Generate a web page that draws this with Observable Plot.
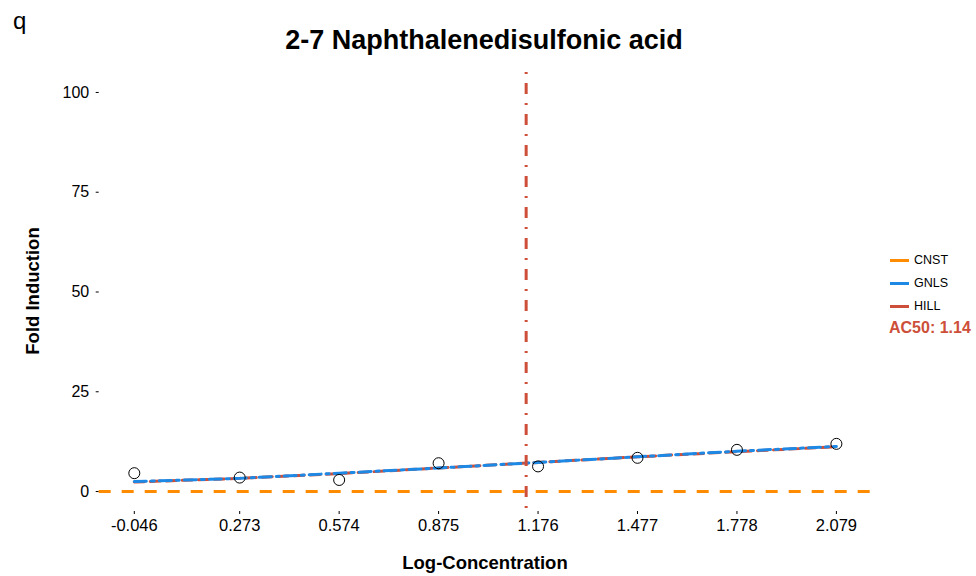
<!DOCTYPE html>
<html>
<head>
<meta charset="utf-8">
<script src="https://cdn.jsdelivr.net/npm/d3@7"></script>
<script src="https://cdn.jsdelivr.net/npm/@observablehq/plot@0.6"></script>
<style>
  body { margin: 0; background: #fff; font-family: "Liberation Sans", Arial, Helvetica, sans-serif; }
  #wrap { position: relative; width: 976px; height: 576px; overflow: hidden; }
  #chart { position: absolute; left: 0; top: 0; }
  .abs { position: absolute; white-space: nowrap; color: #000; line-height: 1.15; }
</style>
</head>
<body>
<div id="wrap">
  <div id="chart"></div>
  <div class="abs" style="left:13px;top:7px;font-size:24px;">q</div>
  <div class="abs" id="title" style="left:484px;top:25px;transform:translateX(-50%);font-size:27px;font-weight:bold;"></div>
  <div class="abs" id="xlab" style="left:485px;top:552px;transform:translateX(-50%);font-size:18.5px;font-weight:bold;"></div>
  <div class="abs" id="ylab" style="left:33px;top:291px;transform:translate(-50%,-50%) rotate(-90deg);font-size:18.5px;font-weight:bold;"></div>
  <div id="legend" class="abs" style="left:889px;top:250px;"></div>
</div>
<script>
// ---- data ----
const chartTitle = "2-7 Naphthalenedisulfonic acid";
const xTitle = "Log-Concentration";
const yTitle = "Fold Induction";
const logConc = [-0.046, 0.273, 0.574, 0.875, 1.176, 1.477, 1.778, 2.079];
const tickLabels = ["-0.046", "0.273", "0.574", "0.875", "1.176", "1.477", "1.778", "2.079"];
const foldInduction = [4.6, 3.5, 2.9, 7.1, 6.3, 8.45, 10.45, 11.95];
const gnlsFit = [2.5, 3.3, 4.6, 5.9, 7.3, 8.7, 10.1, 11.3];
const hillFit = [2.4, 3.3, 4.5, 5.9, 7.3, 8.7, 10.0, 11.2];
const cnstLevel = [0];
const ac50 = [1.14];
const yTicks = [0, 25, 50, 75, 100];
const seriesNames = ["CNST", "GNLS", "HILL"];
const seriesColors = ["#FF8C00", "#1E88E5", "#CD4F39"];

const points = logConc.map((x, i) => ({x, y: foldInduction[i]}));
const gnls = logConc.map((x, i) => ({x, y: gnlsFit[i]}));
const hill = logConc.map((x, i) => ({x, y: hillFit[i]}));

const xmin = -0.046, xmax = 2.079, pad = (xmax - xmin) * 0.05;

const plot = Plot.plot({
  width: 976,
  height: 576,
  marginLeft: 98.7,
  marginRight: 105,
  marginTop: 72,
  marginBottom: 65,
  style: {fontFamily: '"Liberation Sans", Arial, Helvetica, sans-serif', background: "transparent"},
  x: {domain: [xmin - pad, xmax + pad]},
  y: {domain: [-5, 105]},
  marks: [
    Plot.axisY({ticks: yTicks, tickSize: 3, tickPadding: 7, fontSize: 16, label: null, color: "#000"}),
    Plot.axisX({ticks: logConc, tickFormat: (d, i) => tickLabels[i], tickSize: 3, tickPadding: 5, fontSize: 16.5, label: null, color: "#000"}),
    Plot.ruleY(cnstLevel, {stroke: seriesColors[0], strokeWidth: 3, strokeDasharray: "12,11"}),
    Plot.line(hill, {x: "x", y: "y", stroke: seriesColors[2], strokeWidth: 3, strokeDasharray: "10,6"}),
    Plot.line(gnls, {x: "x", y: "y", stroke: seriesColors[1], strokeWidth: 3, strokeDasharray: "12,5,3,5"}),
    Plot.ruleX(ac50, {stroke: seriesColors[2], strokeWidth: 3, strokeDasharray: "2,9,11,9"}),
    Plot.dot(points, {x: "x", y: "y", r: 5.5, stroke: "#000", strokeWidth: 1, fill: "none"})
  ]
});
document.getElementById("chart").appendChild(plot);
document.getElementById("title").textContent = chartTitle;
document.getElementById("xlab").textContent = xTitle;
document.getElementById("ylab").textContent = yTitle;

const leg = document.getElementById("legend");
seriesNames.forEach((name, i) => {
  const row = document.createElement("div");
  row.style.cssText = "position:absolute;left:0;top:" + (i * 23) + "px;height:20px;display:flex;align-items:center;font-size:12.5px;";
  const sw = document.createElement("span");
  sw.style.cssText = "display:inline-block;width:19px;height:3px;margin-left:1px;margin-right:5px;background:" + seriesColors[i];
  const t = document.createElement("span");
  t.textContent = name;
  row.appendChild(sw); row.appendChild(t);
  leg.appendChild(row);
});
const acText = document.createElement("div");
acText.style.cssText = "position:absolute;left:0;top:69px;font-size:16px;font-weight:bold;color:" + seriesColors[2];
acText.textContent = "AC50: " + ac50[0];
leg.appendChild(acText);
</script>
</body>
</html>
